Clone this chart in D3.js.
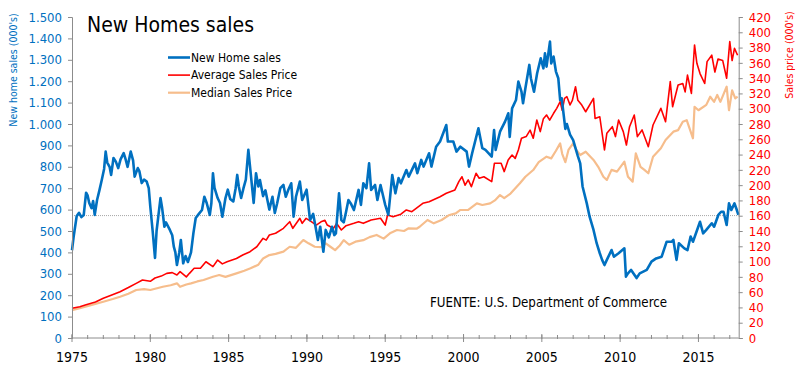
<!DOCTYPE html>
<html><head><meta charset="utf-8">
<script src="https://cdn.jsdelivr.net/npm/d3@7"></script>
<style>body{margin:0;background:#fff}svg{display:block}text{font-family:"DejaVu Sans Condensed","DejaVu Sans",sans-serif}</style>
</head><body><svg id="c" width="800" height="377"></svg>
<script>
// ---- data (decimal year, value) ----
const salesDates = [1975.0,1975.1,1975.3,1975.45,1975.6,1975.75,1975.9,1976.0,1976.1,1976.25,1976.35,1976.45,1976.6,1976.75,1976.9,1977.05,1977.15,1977.25,1977.4,1977.5,1977.65,1977.8,1977.95,1978.1,1978.3,1978.4,1978.55,1978.75,1978.9,1979.0,1979.2,1979.3,1979.45,1979.6,1979.77,1979.9,1980.0,1980.15,1980.3,1980.4,1980.5,1980.65,1980.75,1980.9,1981.0,1981.25,1981.4,1981.5,1981.6,1981.7,1981.85,1981.95,1982.1,1982.25,1982.4,1982.6,1982.75,1982.9,1983.1,1983.3,1983.45,1983.6,1983.8,1983.9,1984.0,1984.1,1984.3,1984.45,1984.6,1984.8,1984.95,1985.1,1985.3,1985.45,1985.55,1985.65,1985.8,1985.95,1986.1,1986.26,1986.4,1986.6,1986.75,1986.9,1987.0,1987.2,1987.35,1987.6,1987.8,1987.95,1988.1,1988.3,1988.5,1988.65,1988.8,1989.0,1989.15,1989.3,1989.55,1989.7,1989.98,1990.2,1990.4,1990.55,1990.7,1990.85,1991.05,1991.2,1991.4,1991.6,1991.75,1991.85,1992.05,1992.2,1992.35,1992.5,1992.65,1992.8,1993.0,1993.3,1993.45,1993.6,1993.8,1993.97,1994.1,1994.35,1994.5,1994.7,1995.0,1995.2,1995.45,1995.65,1995.85,1996.0,1996.35,1996.5,1996.9,1997.05,1997.3,1997.45,1997.8,1997.95,1998.25,1998.5,1998.9,1999.0,1999.35,1999.55,1999.8,2000.2,2000.35,2000.55,2000.95,2001.2,2001.4,2001.8,2001.95,2002.05,2002.33,2002.65,2002.86,2002.95,2003.1,2003.35,2003.5,2003.7,2003.8,2003.95,2004.2,2004.3,2004.5,2004.7,2004.93,2005.1,2005.2,2005.3,2005.52,2005.6,2005.75,2005.9,2006.05,2006.17,2006.27,2006.4,2006.5,2006.6,2006.8,2007.0,2007.15,2007.3,2007.45,2007.6,2007.87,2008.05,2008.3,2008.5,2008.7,2008.85,2009.0,2009.15,2009.45,2009.6,2009.9,2010.27,2010.37,2010.5,2010.7,2011.05,2011.25,2011.7,2012.0,2012.3,2012.65,2012.97,2013.3,2013.4,2013.6,2013.75,2014.1,2014.3,2014.5,2014.65,2015.1,2015.3,2015.5,2015.85,2016.0,2016.27,2016.45,2016.6,2016.8,2016.95,2017.1,2017.3,2017.45,2017.55];
const salesValues = [410,470,570,585,565,575,679,665,631,607,640,575,645,690,738,790,871,820,800,762,841,824,794,835,864,841,800,871,830,754,794,780,724,740,731,700,614,500,374,500,561,654,610,520,540,505,480,427,400,341,400,458,349,383,355,400,489,561,580,598,660,631,575,631,770,701,654,631,567,654,693,650,638,700,762,708,654,700,740,879,778,631,770,708,738,663,690,600,660,584,630,700,715,660,690,723,567,660,731,645,693,551,580,520,458,520,403,505,470,520,481,489,676,551,540,590,645,629,598,692,622,723,700,816,692,715,645,715,622,576,762,676,747,723,785,754,816,770,832,801,863,801,894,918,995,918,918,871,894,871,801,863,980,887,879,848,972,879,964,1011,1050,940,1073,1112,1198,1151,1097,1167,1276,1214,1151,1237,1307,1260,1330,1268,1385,1283,1315,1245,1214,1112,1120,1039,977,1000,950,925,887,850,816,708,629,567,505,443,396,365,341,365,411,380,396,419,287,302,318,280,302,318,357,372,380,450,450,458,365,443,419,411,474,450,543,489,505,536,520,575,590,590,528,629,598,629,598,575];

const avgDates = [1975.0,1975.5,1975.9,1976.5,1977.0,1977.5,1978.07,1978.6,1979.1,1979.5,1980.0,1980.3,1980.7,1981.05,1981.4,1981.7,1981.9,1982.3,1982.5,1982.8,1983.2,1983.55,1984.0,1984.3,1984.6,1984.9,1985.5,1985.9,1986.37,1986.8,1987.2,1987.4,1987.6,1988.0,1988.5,1988.9,1989.1,1989.55,1989.7,1989.95,1990.3,1990.6,1990.9,1991.15,1991.3,1991.5,1991.7,1991.9,1992.2,1992.5,1993.0,1993.3,1993.6,1994.1,1994.7,1995.0,1995.15,1995.5,1996.0,1996.35,1996.7,1997.4,1997.8,1998.5,1998.9,1999.45,1999.7,1999.9,2000.1,2000.3,2000.5,2000.8,2001.0,2001.3,2001.8,2001.97,2002.4,2002.6,2002.85,2003.1,2003.3,2003.5,2003.7,2004.0,2004.25,2004.45,2004.68,2004.9,2005.1,2005.3,2005.5,2005.75,2005.95,2006.17,2006.3,2006.45,2006.6,2006.8,2006.95,2007.15,2007.3,2007.55,2007.8,2008.3,2008.4,2008.7,2009.0,2009.15,2009.5,2009.7,2009.9,2010.2,2010.4,2010.6,2010.9,2011.1,2011.4,2011.8,2012.1,2012.6,2012.9,2013.2,2013.35,2013.7,2014.0,2014.15,2014.3,2014.55,2014.75,2014.9,2015.1,2015.4,2015.55,2015.85,2016.05,2016.25,2016.55,2016.8,2017.0,2017.15,2017.3,2017.5];
const avgValues = [39,41,43.6,47,51.9,56,60.6,66,71.5,75.9,74.2,78.5,81,84.6,85.5,82.5,86.9,80,84.6,91.2,91.2,99.8,93.4,102,97,99.8,104,108.5,112.9,119.4,130.4,128,134.8,137,143.5,152.2,143.5,156.6,150,156.6,152,147.8,152,154,147.8,145.6,143.5,149.9,141.3,147,150,152,150,154.4,156.6,147.8,161,158.7,162,167.5,165.3,176.2,178.4,184.9,189.3,193.7,204.6,211,200,206.8,198,215.5,209,211,204.6,228.6,228.6,217.7,233,239.4,235,246,261.3,263.5,272,261.3,285.2,270,287,291.8,285,294,300.5,309.2,298,313.5,315.7,305,311,328.8,311,304.8,296,313.5,287.3,289.5,246,267.8,276.5,263.5,285.2,270,252.5,276.5,291.8,263.5,272.2,250.3,278.7,300.5,283,335.4,302.6,331,333,322,344,320,383.4,359.4,346,333,361.6,370,348,365,363,339.8,387.8,363,379,370];

const medDates = [1975.0,1975.5,1976.2,1977.0,1977.6,1978.07,1978.6,1979.1,1979.6,1980.0,1980.8,1981.3,1981.7,1981.9,1982.3,1982.6,1983.0,1983.4,1984.0,1984.4,1984.8,1985.5,1986.0,1986.4,1986.9,1987.2,1987.6,1988.0,1988.5,1988.9,1989.3,1989.77,1990.1,1990.5,1990.9,1991.2,1991.5,1991.8,1992.1,1992.35,1992.7,1993.1,1993.6,1994.0,1994.45,1994.9,1995.3,1995.75,1996.2,1996.5,1997.0,1997.2,1997.7,1998.1,1998.6,1999.1,1999.5,1999.8,2000.3,2000.85,2001.2,2001.7,2002.0,2002.33,2002.6,2003.0,2003.6,2003.95,2004.45,2004.8,2005.3,2005.6,2005.9,2006.17,2006.3,2006.5,2006.7,2007.0,2007.2,2007.45,2007.8,2008.3,2008.6,2008.93,2009.15,2009.45,2009.8,2010.27,2010.5,2010.8,2011.0,2011.3,2011.55,2011.8,2012.1,2012.6,2012.9,2013.4,2013.7,2014.0,2014.25,2014.65,2014.75,2015.0,2015.5,2015.75,2016.0,2016.2,2016.4,2016.8,2016.95,2017.15,2017.35,2017.5];
const medValues = [36.5,39,43,47.5,51,54,58,62.8,64,62.8,67.1,69,71.5,67,70,71.5,74,75.9,80.2,82.4,80,84.6,88,91.2,96,104,108.5,110,113,119.4,118,128.2,123.9,119.4,119,123.9,119.4,115,121,128,122,126,128,132,134.8,130,137,141.3,140,143.5,143,145.6,154.4,150,154.4,161,163,167.5,167.5,176.2,174,176.2,180,187,183,189,202.4,211,219.8,230,237.2,235,245,254.7,241,230,246,254.7,246,239.4,243.7,232.9,224,211,206.8,220,217.7,230.7,211,204.6,241.6,224,220,215.5,237.2,248.2,259,270,272,283,285,261.3,302.6,298,305,315.7,309,318,309,328.8,298,324,313.5,315.7];

const leftTicks = [0,100,200,300,400,500,600,700,800,900,1000,1100,1200,1300,1400,1500];
const rightTicks = d3.range(0, 421, 20);
const yearTicks = d3.range(1975, 2016, 5);
const minorYears = d3.range(1975, 2018, 1);
const refLineValue = 572;
const seriesNames = ["New Home sales","Average Sales Price","Median Sales Price"];
const title = "New Homes sales";
const source = "FUENTE: U.S. Department of Commerce";

// ---- drawing ----
const svg = d3.select("#c");
const L = 72, R = 738.7, T = 17, B = 338;
const x = d3.scaleLinear().domain([1975, 2017.57]).range([L, R]);
const yL = d3.scaleLinear().domain([0, 1500]).range([B, T]);
const yR = d3.scaleLinear().domain([0, 420]).range([B, T]);
const BLUE = "#0070C0", RED = "#FF0000", PEACH = "#F6BD8C", AX = "#8C8C8C";
const fmt = d => d3.format(",")(d).replace(/,/g, ".");

// reference dotted line
svg.append("line").attr("x1", L).attr("x2", R).attr("y1", yL(refLineValue)).attr("y2", yL(refLineValue))
  .attr("stroke", "#A6A6A6").attr("stroke-width", 1).attr("stroke-dasharray", "1,1");

const mk = (dates, vals, ys) => d3.line().x((d, i) => x(dates[i])).y((d, i) => ys(vals[i]))(vals);
svg.append("path").attr("d", mk(medDates, medValues, yR)).attr("fill", "none").attr("stroke", PEACH).attr("stroke-width", 2.2).attr("stroke-linejoin", "round");
svg.append("path").attr("d", mk(avgDates, avgValues, yR)).attr("fill", "none").attr("stroke", RED).attr("stroke-width", 1.6).attr("stroke-linejoin", "round");
svg.append("path").attr("d", mk(salesDates, salesValues, yL)).attr("fill", "none").attr("stroke", BLUE).attr("stroke-width", 2.6).attr("stroke-linejoin", "round");

// left axis
const gl = svg.append("g").attr("transform", `translate(${L},0)`)
  .call(d3.axisLeft(yL).tickValues(leftTicks).tickFormat(fmt).tickSize(4).tickPadding(6));
gl.select(".domain").attr("stroke", AX);
gl.selectAll(".tick line").attr("stroke", AX);
gl.selectAll("text").attr("fill", BLUE).style("font-size", "13px");

// right axis
const gr = svg.append("g").attr("transform", `translate(${R},0)`)
  .call(d3.axisRight(yR).tickValues(rightTicks).tickSize(4).tickPadding(6));
gr.select(".domain").attr("stroke", AX);
gr.selectAll(".tick line").attr("stroke", AX);
gr.selectAll("text").attr("fill", RED).style("font-size", "13px");

// bottom axis
const gb = svg.append("g").attr("transform", `translate(0,${B})`);
gb.append("line").attr("x1", L).attr("x2", R).attr("stroke", AX);
gb.selectAll(".minor").data(minorYears).join("line").attr("class", "minor")
  .attr("x1", d => x(d)).attr("x2", d => x(d)).attr("y1", -3).attr("y2", 1).attr("stroke", AX);
gb.selectAll(".major").data(yearTicks).join("line").attr("class", "major")
  .attr("x1", d => x(d)).attr("x2", d => x(d)).attr("y1", -4).attr("y2", 4).attr("stroke", AX);
gb.selectAll(".lbl").data(yearTicks).join("text").attr("class", "lbl")
  .attr("x", d => x(d)).attr("y", 24).attr("text-anchor", "middle").attr("fill", "#000")
  .style("font-size", "14px").text(d => d);

// axis titles
svg.append("text").attr("transform", "translate(17,70) rotate(-90)").attr("text-anchor", "middle")
  .attr("fill", BLUE).style("font-size", "10.5px").text("New home sales  (000's)");
svg.append("text").attr("transform", "translate(793,55) rotate(-90)").attr("text-anchor", "middle")
  .attr("fill", RED).style("font-size", "10.5px").text("Sales price (000's)");

// title
svg.append("text").attr("x", 87).attr("y", 32).attr("fill", "#000").style("font-size", "21px").text(title);

// legend
const colors = [BLUE, RED, PEACH], widths = [2.6, 1.6, 2.2];
const lg = svg.append("g");
seriesNames.forEach((n, i) => {
  const yy = 57.5 + i * 17.6;
  lg.append("line").attr("x1", 168).attr("x2", 190).attr("y1", yy).attr("y2", yy).attr("stroke", colors[i]).attr("stroke-width", widths[i]);
  lg.append("text").attr("x", 191).attr("y", yy + 4.3).attr("fill", "#000").style("font-size", "12px").text(n);
});

// source
svg.append("text").attr("x", 430).attr("y", 307).attr("fill", "#000").style("font-size", "13.2px").text(source);
</script></body></html>
